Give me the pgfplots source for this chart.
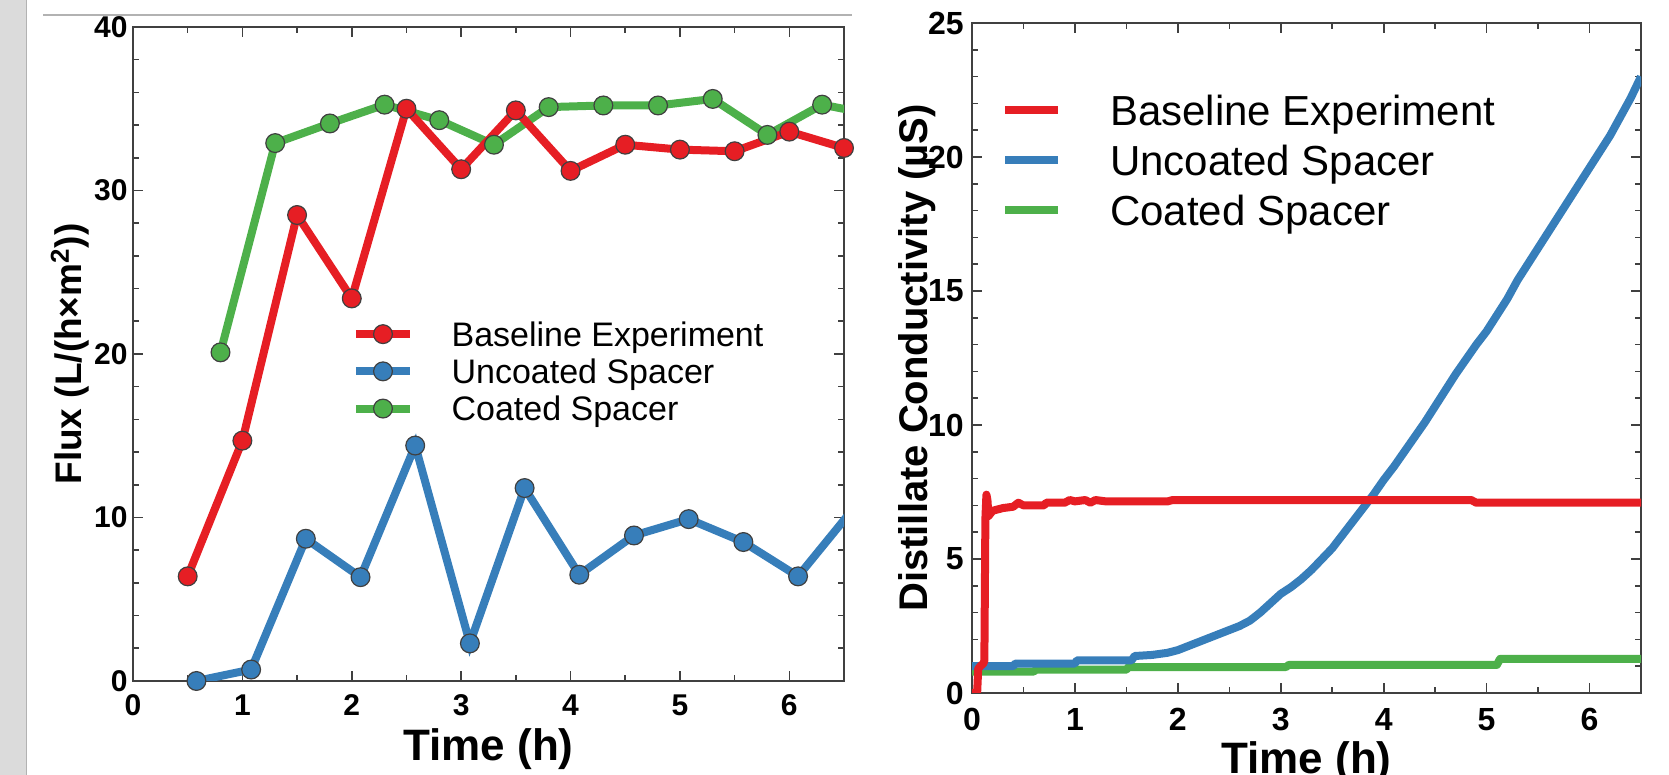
\documentclass[border=0pt]{standalone}
\usepackage{fontspec}
\setmainfont{Liberation Sans}
\usepackage{pgfplots}
\pgfplotsset{compat=1.18}
\definecolor{cred}{RGB}{230,30,36}
\definecolor{cblue}{RGB}{55,126,186}
\definecolor{cgreen}{RGB}{77,176,74}
\definecolor{axgray}{RGB}{64,64,64}
\pgfplotsset{mystyle/.style={
  scale only axis, anchor=south west,
  axis line style={axgray, line width=1pt},
  tick style={axgray, line width=0.8pt},
  tick align=inside, major tick length=5pt, minor tick length=3pt,
  xtick pos=both, ytick pos=both,
  /pgf/number format/assume math mode=true,
  label style={font=\fontsize{20}{24}\selectfont\bfseries},
  xlabel style={font=\fontsize{22}{26}\selectfont\bfseries},
  legend cell align=left,
  xmin=0, xmax=6.5, xtick={0,1,...,6}, minor x tick num=1,
}}
\begin{document}
\begin{tikzpicture}
\path[use as bounding box] (0pt,0pt) rectangle (834.5pt,387.5pt);
\fill[gray!28] (0pt,0pt) rectangle (13pt,387.5pt);
\draw[gray!60, line width=0.5pt] (13pt,0pt) -- (13pt,387.5pt);
\draw[gray!60, line width=0.6pt] (21.5pt,380pt) -- (426pt,380pt);

% ---------- left panel ----------
\begin{axis}[mystyle, at={(66.5pt,47pt)}, width=355.5pt, height=327pt,
  ymin=0, ymax=40, ytick={0,10,...,40}, minor y tick num=4,
  ticklabel style={font=\fontsize{15}{17}\selectfont\bfseries},
  xticklabel style={anchor=base, yshift=-17.5pt},
  yticklabel style={anchor=east, inner sep=0pt, xshift=-2.5pt},
  xlabel={Time (h)}, ylabel={Flux (L/(h×m\textsuperscript{2}))},
  xlabel style={at={(axis description cs:0.5,0)}, anchor=base, yshift=-40pt},
  ylabel style={at={(axis description cs:-0.0725,0.5)}, anchor=base, font=\fontsize{18.5}{22}\selectfont\bfseries},
  reverse legend,
  legend style={at={(0.308,0.549)}, anchor=north west, draw=none, fill=none,
    inner sep=0pt, outer sep=0pt, row sep=6.4pt,
    font=\fontsize{17}{20}\selectfont,
    nodes={inner sep=0pt, text height=12.2pt, text depth=0pt},
    /tikz/every odd column/.append style={column sep=18.8pt}},
  legend image code/.code={\draw[mark repeat=2,mark phase=2,#1] plot coordinates {(0pt,0pt)(13.5pt,0pt)(27pt,0pt)};},
  every axis plot/.append style={line width=4pt},
]
\addplot[cgreen, mark=*, mark size=4.7pt, mark options={fill=cgreen, draw=black!75, line width=0.6pt}] coordinates {
(0.8,20.1)(1.3,32.9)(1.8,34.1)(2.3,35.25)(2.8,34.3)(3.3,32.8)(3.8,35.1)(4.3,35.2)(4.8,35.2)(5.3,35.6)(5.8,33.4)(6.3,35.25)(6.8,34.6)};
\addlegendentry{Coated Spacer}
\addplot[cblue, mark=*, mark size=4.7pt, mark options={fill=cblue, draw=black!75, line width=0.6pt}] coordinates {
(0.58,0.0)(1.08,0.7)(1.58,8.7)(2.08,6.35)(2.58,14.4)(3.08,2.3)(3.58,11.8)(4.08,6.5)(4.58,8.9)(5.08,9.9)(5.58,8.5)(6.08,6.4)(6.58,10.5)};
\addlegendentry{Uncoated Spacer}
\addplot[cred, mark=*, mark size=4.7pt, mark options={fill=cred, draw=black!75, line width=0.6pt}] coordinates {
(0.5,6.4)(1.0,14.7)(1.5,28.5)(2.0,23.4)(2.5,35.0)(3.0,31.3)(3.5,34.9)(4.0,31.2)(4.5,32.8)(5.0,32.5)(5.5,32.4)(6.0,33.6)(6.5,32.6)};
\addlegendentry{Baseline Experiment}
\end{axis}

% ---------- right panel ----------
\begin{axis}[mystyle, at={(486pt,41pt)}, width=334.5pt, height=335pt,
  ymin=0, ymax=25, ytick={0,5,...,25}, minor y tick num=4,
  ticklabel style={font=\fontsize{16}{18}\selectfont\bfseries},
  xticklabel style={anchor=base, yshift=-19pt},
  yticklabel style={anchor=east, inner sep=0pt, xshift=-4pt},
  xlabel={Time (h)}, ylabel={Distillate Conductivity (µS)},
  xlabel style={at={(axis description cs:0.5,0)}, anchor=base, yshift=-40.5pt},
  ylabel style={at={(axis description cs:-0.0658,0.5)}, anchor=base},
  reverse legend,
  legend style={at={(0.044,0.8925)}, anchor=north west, draw=none, fill=none,
    inner sep=0pt, outer sep=0pt, row sep=10pt,
    font=\fontsize{21}{24}\selectfont,
    nodes={inner sep=0pt, text height=15pt, text depth=0pt},
    /tikz/every odd column/.append style={column sep=23.9pt}},
  legend image code/.code={\draw[#1] (0pt,0pt) -- (26.5pt,0pt);},
  every axis plot/.append style={line width=4pt, line join=round},
]
\addplot[cgreen] coordinates {
(0,0.8)(0.6,0.8)(0.62,0.87)(1.5,0.87)(1.52,0.97)(3.05,0.97)(3.08,1.05)(5.1,1.05)(5.13,1.27)(6.5,1.27)};
\addlegendentry{Coated Spacer}
\addplot[cblue] coordinates {
(0,1.0)(0.4,1.0)(0.42,1.1)(1.0,1.1)(1.02,1.22)(1.55,1.22)(1.58,1.38)(1.75,1.42)(1.9,1.5)(2.0,1.6)(2.1,1.75)(2.2,1.9)(2.3,2.05)(2.4,2.2)(2.5,2.35)(2.6,2.5)(2.7,2.7)(2.8,3.0)(2.9,3.35)(3.0,3.7)(3.1,3.95)(3.2,4.25)(3.3,4.6)(3.4,5.0)(3.5,5.4)(3.6,5.9)(3.7,6.4)(3.8,6.9)(3.9,7.4)(4.0,7.95)(4.1,8.45)(4.2,9.0)(4.3,9.55)(4.4,10.1)(4.5,10.7)(4.6,11.3)(4.7,11.9)(4.8,12.45)(4.9,13.0)(5.0,13.5)(5.1,14.1)(5.2,14.7)(5.3,15.4)(5.4,16.0)(5.5,16.6)(5.6,17.2)(5.7,17.8)(5.8,18.4)(5.9,19.0)(6.0,19.6)(6.1,20.2)(6.2,20.8)(6.3,21.5)(6.4,22.2)(6.5,23.0)};
\addlegendentry{Uncoated Spacer}
\addplot[cred] coordinates {
(0,0)(0.05,0)(0.06,0.9)(0.08,1.0)(0.11,1.1)(0.12,1.2)(0.13,6.5)(0.14,7.4)(0.15,7.2)(0.16,6.6)(0.2,6.8)(0.3,6.9)(0.4,6.95)(0.45,7.1)(0.5,7.0)(0.7,7.0)(0.72,7.1)(0.9,7.1)(0.95,7.2)(1.0,7.15)(1.1,7.2)(1.15,7.1)(1.2,7.2)(1.3,7.15)(1.4,7.15)(1.9,7.15)(1.95,7.2)(4.85,7.2)(4.9,7.1)(6.5,7.1)};
\addlegendentry{Baseline Experiment}
\end{axis}
\end{tikzpicture}
\end{document}
